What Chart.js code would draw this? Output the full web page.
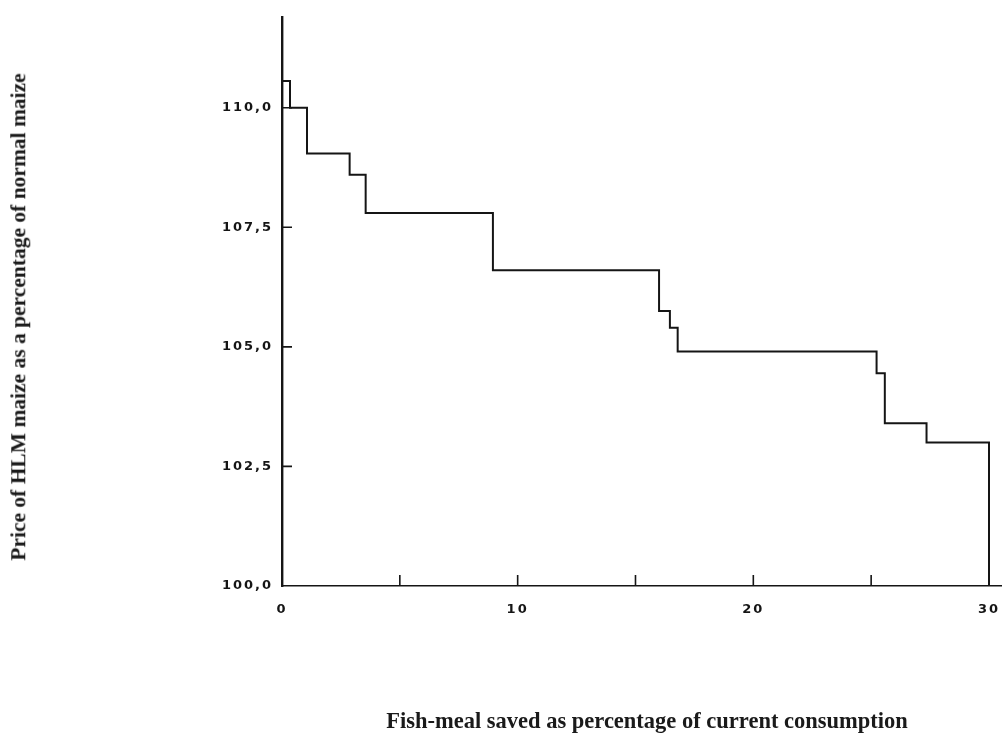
<!DOCTYPE html>
<html>
<head>
<meta charset="utf-8">
<script src="https://cdn.jsdelivr.net/npm/chart.js@4/dist/chart.umd.min.js"></script>
<style>
  html, body { margin: 0; padding: 0; background: #fff; }
  #wrap { position: relative; width: 1002px; height: 739px; }
  #chart { position: absolute; left: 0; top: 0; }
  .ttl { position: absolute; font-family: 'Liberation Serif', 'Times New Roman', serif;
         font-weight: bold; color: #1a1a1a; white-space: nowrap; line-height: 1; }
  #xTitle { left: 647px; top: 721px; font-size: 22.5px; transform: translate(-50%, -50%); }
  #yTitle { left: 19px; top: 317px; font-size: 21.5px; transform: translate(-50%, -50%) rotate(-90deg); }
</style>
</head>
<body>
<div id="wrap">
  <canvas id="chart" width="1002" height="739"></canvas>
  <div class="ttl" id="xTitle">Fish-meal saved as percentage of current consumption</div>
  <div class="ttl" id="yTitle">Price of HLM maize as a percentage of normal maize</div>
</div>
<script>
(function () {
  'use strict';

  var INK = '#151515';

  /* ---------- data ---------- */
  // fish-meal saved (%) where each price level starts
  var savedPct = [0, 0.34, 1.06, 2.87, 3.55, 8.95, 16.0, 16.46, 16.79, 25.23, 25.58, 27.35, 30.0];
  // price of HLM maize (% of normal maize) from that point on
  var pricePct = [110.56, 110.0, 109.04, 108.6, 107.8, 106.6, 105.75, 105.4, 104.9, 104.45, 103.4, 103.0, 100.0];
  var yTicks = [100, 102.5, 105, 107.5, 110];
  var xTickMarks = [5, 10, 15, 20, 25];
  var xLabelled = [0, 10, 20, 30];

  var points = savedPct.map(function (x, i) { return { x: x, y: pricePct[i] }; });

  function fmt(v) { return v.toFixed(1).replace('.', ','); }

  // inward tick marks like the original drawing
  var tickMarks = {
    id: 'tickMarks',
    beforeDraw: function (chart) { chart.ctx.letterSpacing = '2px'; },
    afterDraw: function (chart) {
      var ctx = chart.ctx, a = chart.chartArea, xs = chart.scales.x, ys = chart.scales.y;
      ctx.save();
      ctx.strokeStyle = INK;
      ctx.lineWidth = 1.6;
      ctx.beginPath();
      yTicks.forEach(function (v) {
        if (v === 100) return;
        var py = ys.getPixelForValue(v);
        ctx.moveTo(a.left, py); ctx.lineTo(a.left + 10, py);
      });
      xTickMarks.forEach(function (v) {
        var px = xs.getPixelForValue(v);
        ctx.moveTo(px, a.bottom); ctx.lineTo(px, a.bottom - 11);
      });
      ctx.stroke();
      ctx.restore();
    }
  };

  new Chart(document.getElementById('chart'), {
    type: 'line',
    data: {
      datasets: [{
        data: points,
        stepped: 'before',
        borderColor: INK,
        borderWidth: 2,
        pointRadius: 0,
        fill: false
      }]
    },
    options: {
      responsive: false,
      animation: false,
      layout: { padding: { top: 12, right: 1, left: 0, bottom: 0 } },
      plugins: { legend: { display: false }, tooltip: { enabled: false } },
      scales: {
        x: {
          type: 'linear', min: 0, max: 30.51,
          grid: { display: false, drawTicks: false },
          border: { display: true, color: INK, width: 1.6 },
          afterBuildTicks: function (s) { s.ticks = xLabelled.map(function (v) { return { value: v }; }); },
          afterFit: function (s) { s.height = 153; s.paddingRight = 0; s.paddingLeft = 0; },
          ticks: {
            padding: 16, maxRotation: 0, autoSkip: false,
            color: INK,
            font: { family: "'DejaVu Sans'", weight: 'bold', size: 13 },
            callback: function (v) { return String(v); }
          }
        },
        y: {
          type: 'linear', min: 100, max: 111.9,
          grid: { display: false, drawTicks: false },
          border: { display: true, color: INK, width: 2.4 },
          afterBuildTicks: function (s) { s.ticks = yTicks.map(function (v) { return { value: v }; }); },
          afterFit: function (s) { s.width = 282; },
          ticks: {
            padding: 9, autoSkip: false,
            color: INK,
            font: { family: "'DejaVu Sans'", weight: 'bold', size: 13 },
            callback: function (v) { return fmt(v); }
          }
        }
      }
    },
    plugins: [tickMarks]
  });
})();
</script>
</body>
</html>
